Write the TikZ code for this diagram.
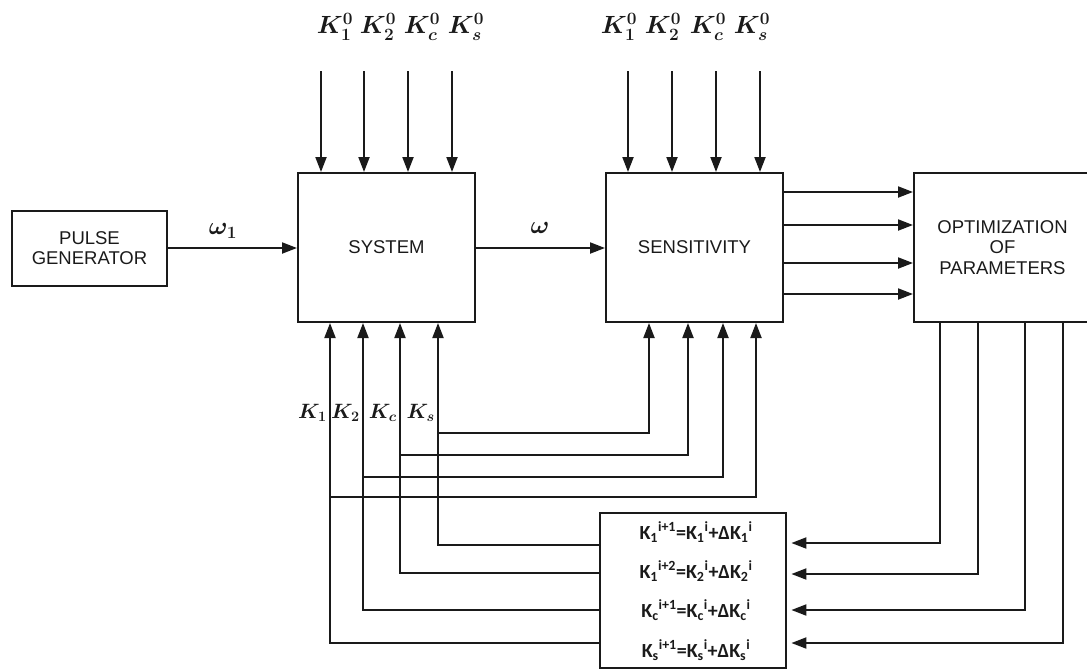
\documentclass[tikz,border=0pt]{standalone}
\usepackage{amsmath,amssymb}
\usepackage{fontspec}
\setsansfont{Liberation Sans}
\newfontfamily\eqfont{Carlito}
\usepackage{tikz}
\usetikzlibrary{arrows.meta,positioning,calc}
\definecolor{ink}{HTML}{1A1A1A}
\tikzset{
  >={Triangle[length=15pt,width=11pt]},
  every node/.style={text=ink},
  block/.style={draw=ink,line width=2pt,minimum width=177pt,minimum height=149pt,align=center,inner sep=0pt,
    font=\fontsize{18.5}{20.5}\selectfont\sffamily},
  updbox/.style={block,minimum width=186pt,minimum height=155pt,line width=2.8pt},
  arrow/.style={->,line width=2pt,draw=ink},
  klabel/.style={font=\fontsize{24}{28}\selectfont\boldmath,inner sep=0pt},
  fblabel/.style={klabel,font=\fontsize{21.5}{25}\selectfont\boldmath,anchor=east},
  eqn/.style={font=\fontsize{20}{23}\selectfont\eqfont\bfseries,inner sep=0pt}
}

\begin{document}
\begin{tikzpicture}[x=1pt,y=-1pt]
  \useasboundingbox (0,0) rectangle (1087,670);
  \node[block,minimum width=155pt,minimum height=75pt] (pulse) at (89.5,248) {PULSE\\GENERATOR};
  \node[block] (sys) at (386.5,247.5) {SYSTEM};
  \node[block] (sens) at (694.5,247.5) {SENSITIVITY};
  \node[block] (opt) at (1002.5,247.5) {OPTIMIZATION\\OF\\PARAMETERS};
  \node[updbox] (upd) at (693,590.5) {};

  % update rules
  \node[eqn] (eq1) at (696,532) {K\textsubscript{1}\textsuperscript{i+1}=K\textsubscript{1}\textsuperscript{i}+ΔK\textsubscript{1}\textsuperscript{i}};
  \node[eqn] (eq2) at (696,571) {K\textsubscript{1}\textsuperscript{i+2}=K\textsubscript{2}\textsuperscript{i}+ΔK\textsubscript{2}\textsuperscript{i}};
  \node[eqn] (eq3) at (696,610) {K\textsubscript{c}\textsuperscript{i+1}=K\textsubscript{c}\textsuperscript{i}+ΔK\textsubscript{c}\textsuperscript{i}};
  \node[eqn] (eq4) at (696,650) {K\textsubscript{s}\textsuperscript{i+1}=K\textsubscript{s}\textsuperscript{i}+ΔK\textsubscript{s}\textsuperscript{i}};

  % signal
  \draw[arrow] (pulse.east) -- (pulse.east -| sys.west);
  \node[klabel] (w1) at (223,231) {$\omega_1$};
  \draw[arrow] (sys.east |- pulse.east) -- (sens.west |- pulse.east);
  \node[klabel] (w) at (540,228) {$\omega$};

  % initial values
  \foreach \s/\xa/\la/\xb/\lb in {1/321/335/628/619, 2/364/378/672/663, c/408/422/716/708, s/452/466/760/752} {
    \node[klabel] (ks\s) at (\la,27) {$K^0_{\s}$};
    \node[klabel] (kt\s) at (\lb,27) {$K^0_{\s}$};
    \coordinate (ts\s) at (\xa,71);
    \coordinate (tt\s) at (\xb,71);
    \draw[arrow] (ts\s) -- (sys.north -| ts\s);
    \draw[arrow] (tt\s) -- (sens.north -| tt\s);
  }

  % feedback of parameters
  \foreach \s/\xa/\xb/\yb/\yl in {1/330/756/497/643, 2/363/723/477/610, c/400/688/455/573, s/438/649/433/545} {
    \coordinate (j\s) at (\xa,\yb);
    \coordinate (e\s) at (\xb,\yb);
    \draw[arrow] (upd.west |- 0,\yl) -| (sys.south -| j\s);
    \draw[arrow] (j\s) -- (e\s) -- (sens.south -| e\s);
    \node[fblabel] (kf\s) at ([xshift=-3pt]j\s |- 0,413) {$K_{\s}$};
  }

  % sensitivities
  \foreach \y in {192,225,263,294}
    \draw[arrow] (sens.east |- 0,\y) -- (opt.west |- 0,\y);

  % corrections
  \foreach \x/\y in {940/543, 978/574, 1025/610, 1063/643}
    \draw[arrow] (opt.south -| \x,0) |- ([xshift=4pt]upd.east |- 0,\y);
\end{tikzpicture}
\end{document}
